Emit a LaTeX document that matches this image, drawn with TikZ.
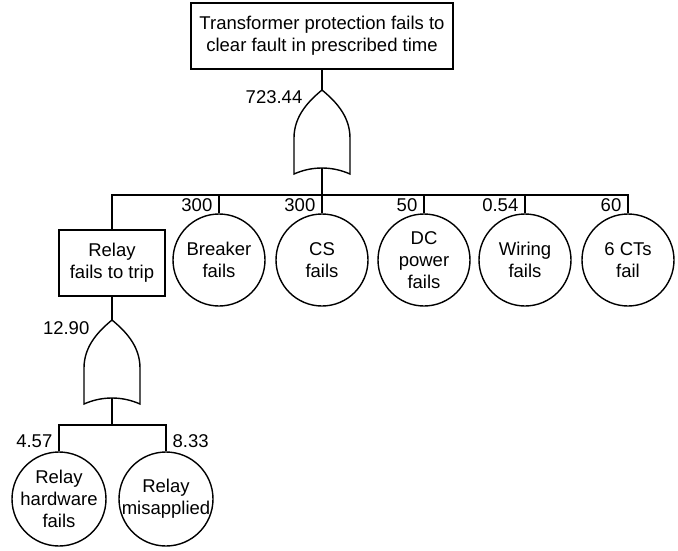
\documentclass[tikz,border=0pt]{standalone}
\usepackage{fontspec}
\setmainfont{Liberation Sans}
\tikzset{
  evt/.style={draw, rectangle, align=center, inner sep=0pt},
  basic/.style={draw, circle, align=center, inner sep=-5pt},
  prob/.style={inner sep=0pt},
  orgate/.pic={
    \draw (0,0) .. controls (-12,10) and (-28,25) .. (-28,48) -- (-28,84)
          .. controls (-10,76) and (10,76) .. (28,84) -- (28,48)
          .. controls (28,25) and (12,10) .. (0,0) -- cycle;
  }
}
\begin{document}
\begin{tikzpicture}[x=1pt, y=-1pt, line width=1.4pt, font=\fontsize{18.5}{22}\selectfont]
  \useasboundingbox (0,0) rectangle (678,550);
  % top event and its gate
  \node[evt, minimum width=262pt, minimum height=66pt] (top) at (322,36)
       {Transformer protection fails to\\clear fault in prescribed time};
  \coordinate (g1) at (322,90);
  \coordinate (g1b) at (322,168);
  \pic at (g1) {orgate};
  \node[prob, anchor=east] (p0) at ([xshift=-19pt,yshift=-7pt]g1) {723.44};
  \draw (top) -- (g1);

  % first level
  \coordinate (bus) at (0,195);
  \node[evt, minimum width=106pt, minimum height=66pt] (rel) at (112,263) {Relay\\fails to trip};
  \node[basic, minimum size=92pt] (bk) at (219,260) {Breaker\\fails};
  \node[basic, minimum size=92pt] (cs) at (322,260) {CS\\fails};
  \node[basic, minimum size=92pt] (dc) at (424,260) {DC\\power\\fails};
  \node[basic, minimum size=92pt] (wr) at (525,260) {Wiring\\fails};
  \node[basic, minimum size=92pt] (cts) at (628,260) {6 CTs\\fail};
  \draw (rel.north) |- (bus -| cts.north) -- (cts.north);
  \draw (g1b) -- (cs.north);
  \draw (bk.north) -- (bk.north |- bus);
  \draw (dc.north) -- (dc.north |- bus);
  \draw (wr.north) -- (wr.north |- bus);
  \node[prob, anchor=base east] (p1) at ([xshift=-6pt,yshift=2pt]bk.north) {300};
  \node[prob, anchor=base east] (p2) at ([xshift=-6pt,yshift=2pt]cs.north) {300};
  \node[prob, anchor=base east] (p3) at ([xshift=-6pt,yshift=2pt]dc.north) {50};
  \node[prob, anchor=base east] (p4) at ([xshift=-6pt,yshift=2pt]wr.north) {0.54};
  \node[prob, anchor=base east] (p5) at ([xshift=-6pt,yshift=2pt]cts.north) {60};

  % relay branch
  \coordinate (g2) at (112,320);
  \coordinate (g2b) at (112,398);
  \pic at (g2) {orgate};
  \node[prob, anchor=east] (p6) at ([xshift=-22pt,yshift=-8pt]g2) {12.90};
  \draw (rel.south) -- (g2);
  \coordinate (lbus) at (0,425);
  \node[basic, minimum size=94pt] (rh) at (59,499) {Relay\\hardware\\fails};
  \node[basic, minimum size=94pt] (rm) at (166,499) {Relay\\misapplied};
  \draw (rh.north) |- (lbus -| rm.north) -- (rm.north);
  \draw (g2b) -- (g2b |- lbus);
  \node[prob, anchor=base east] (p7) at ([xshift=-6pt,yshift=4pt]rh.north) {4.57};
  \node[prob, anchor=base west] (p8) at ([xshift=6pt,yshift=4pt]rm.north) {8.33};
\end{tikzpicture}
\end{document}
